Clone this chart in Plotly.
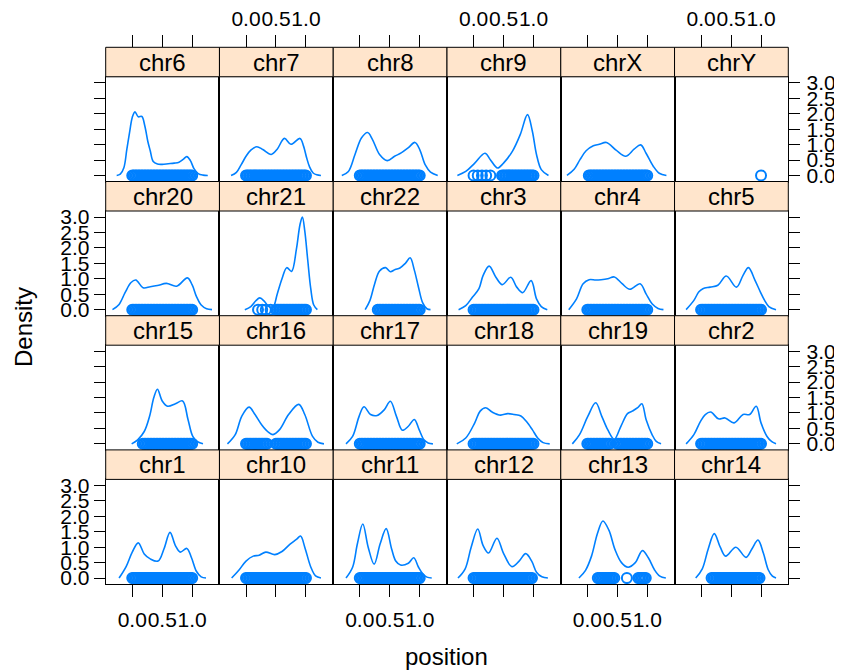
import plotly.graph_objects as go

# ---------------- data ----------------
panel_names = ["chr6", "chr7", "chr8", "chr9", "chrX", "chrY",
               "chr20", "chr21", "chr22", "chr3", "chr4", "chr5",
               "chr15", "chr16", "chr17", "chr18", "chr19", "chr2",
               "chr1", "chr10", "chr11", "chr12", "chr13", "chr14"]

x_ticks = [0.0, 0.5, 1.0]
x_tick_labels = ["0.0", "0.5", "1.0"]
y_ticks = [0.0, 0.5, 1.0, 1.5, 2.0, 2.5, 3.0]
y_tick_labels = ["0.0", "0.5", "1.0", "1.5", "2.0", "2.5", "3.0"]

# point positions (drawn at density 0) – the band spans the observed positions
full_band = [0.000, 0.025, 0.050, 0.075, 0.100, 0.125, 0.150, 0.175, 0.200, 0.225, 0.250,
             0.275, 0.300, 0.325, 0.350, 0.375, 0.400, 0.425, 0.450, 0.475, 0.500, 0.525,
             0.550, 0.575, 0.600, 0.625, 0.650, 0.675, 0.700, 0.725, 0.750, 0.775, 0.800,
             0.825, 0.850, 0.875, 0.900, 0.925, 0.950, 0.975, 1.000]

# density curves: position grid and density values
pos_chr6 = [-0.26, -0.20, -0.14, -0.09, -0.04, 0.00, 0.045, 0.10, 0.16, 0.21, 0.26, 0.30, 0.35,
            0.42, 0.50, 0.60, 0.70, 0.78, 0.85, 0.91, 0.97, 1.03, 1.10, 1.18, 1.26]
den_chr6 = [0.0, 0.04, 0.25, 0.85, 1.45, 1.88, 2.06, 1.90, 1.91, 1.60, 1.10, 0.80, 0.45,
            0.37, 0.36, 0.38, 0.40, 0.43, 0.52, 0.61, 0.48, 0.22, 0.06, 0.01, 0.0]
pts_chr6 = full_band

pos_chr7 = [-0.25, -0.16, -0.08, 0.0, 0.08, 0.18, 0.28, 0.42, 0.52, 0.64, 0.75, 0.90, 0.96,
            1.01, 1.06, 1.12, 1.18, 1.25]
den_chr7 = [0.0, 0.10, 0.35, 0.62, 0.82, 0.93, 0.84, 0.68, 0.85, 1.20, 1.01, 1.20, 0.95,
            0.58, 0.28, 0.08, 0.02, 0.0]
pts_chr7 = full_band

pos_chr8 = [-0.30, -0.19, -0.08, 0.03, 0.13, 0.21, 0.33, 0.46, 0.58, 0.69, 0.81, 0.92, 1.00,
            1.09, 1.18, 1.30]
den_chr8 = [0.0, 0.13, 0.68, 1.22, 1.39, 1.17, 0.68, 0.48, 0.62, 0.73, 0.90, 1.07, 0.84,
            0.35, 0.11, 0.0]
pts_chr8 = full_band

pos_chr9 = [-0.27, -0.13, 0.02, 0.19, 0.28, 0.40, 0.50, 0.65, 0.78, 0.90, 0.98, 1.05, 1.13, 1.25]
den_chr9 = [0.0, 0.13, 0.40, 0.72, 0.51, 0.24, 0.40, 0.79, 1.33, 1.97, 1.44, 0.68, 0.19, 0.0]
pts_chr9 = [0.00, 0.07, 0.14, 0.21, 0.28,
            0.475, 0.500, 0.525, 0.550, 0.575, 0.600, 0.625, 0.650, 0.675, 0.700, 0.725,
            0.750, 0.775, 0.800, 0.825, 0.850, 0.875, 0.900, 0.925, 0.950, 0.975, 1.000]

pos_chrX = [-0.34, -0.22, -0.12, -0.02, 0.10, 0.20, 0.32, 0.48, 0.64, 0.78, 0.89, 0.98, 1.10,
            1.20, 1.32]
den_chrX = [0.0, 0.20, 0.52, 0.80, 0.96, 1.01, 1.07, 0.82, 0.62, 0.85, 0.99, 0.72, 0.30, 0.07, 0.0]
pts_chrX = [0.025, 0.050, 0.075, 0.100, 0.125, 0.150, 0.175, 0.200, 0.225, 0.250, 0.275,
            0.300, 0.325, 0.350, 0.375, 0.400, 0.425, 0.450, 0.475, 0.500, 0.525, 0.550,
            0.575, 0.600, 0.625, 0.650, 0.675, 0.700, 0.725, 0.750, 0.775, 0.800, 0.825,
            0.850, 0.875, 0.900, 0.925, 0.950, 0.975, 1.000]

pos_chrY = []
den_chrY = []
pts_chrY = [1.0]

pos_chr20 = [-0.33, -0.22, -0.12, -0.02, 0.06, 0.18, 0.30, 0.42, 0.57, 0.74, 0.92, 1.00, 1.07,
             1.15, 1.24, 1.33]
den_chr20 = [0.0, 0.17, 0.55, 0.88, 0.96, 0.71, 0.74, 0.78, 0.85, 0.76, 1.03, 0.80, 0.43,
             0.15, 0.03, 0.0]
pts_chr20 = full_band

pos_chr21 = [-0.02, 0.08, 0.16, 0.23, 0.31, 0.38, 0.45, 0.52, 0.60, 0.68, 0.76, 0.84, 0.90,
             0.94, 0.98, 1.03, 1.08, 1.13, 1.19]
den_chr21 = [0.0, 0.10, 0.28, 0.38, 0.26, 0.10, 0.08, 0.50, 1.00, 1.36, 1.24, 1.95, 2.75,
             3.00, 2.55, 1.60, 0.68, 0.15, 0.0]
pts_chr21 = [0.20, 0.27, 0.33, 0.41,
             0.500, 0.525, 0.550, 0.575, 0.600, 0.625, 0.650, 0.675, 0.700, 0.725, 0.750,
             0.775, 0.800, 0.825, 0.850, 0.875, 0.900, 0.925, 0.950, 0.975, 1.000]

pos_chr22 = [0.09, 0.17, 0.25, 0.33, 0.43, 0.51, 0.59, 0.67, 0.76, 0.84, 0.91, 0.98, 1.05, 1.12, 1.18]
den_chr22 = [0.0, 0.30, 0.85, 1.25, 1.36, 1.23, 1.30, 1.35, 1.50, 1.68, 1.28, 0.72, 0.22, 0.03, 0.0]
pts_chr22 = [0.300, 0.325, 0.350, 0.375, 0.400, 0.425, 0.450, 0.475, 0.500, 0.525, 0.550,
             0.575, 0.600, 0.625, 0.650, 0.675, 0.700, 0.725, 0.750, 0.775, 0.800, 0.825,
             0.850, 0.875, 0.900, 0.925, 0.950, 0.975, 1.000]

pos_chr3 = [-0.25, -0.13, -0.02, 0.09, 0.16, 0.26, 0.37, 0.48, 0.62, 0.72, 0.82, 0.96, 1.05, 1.13, 1.23]
den_chr3 = [0.0, 0.13, 0.40, 0.68, 1.11, 1.41, 1.06, 0.81, 1.05, 0.73, 0.55, 0.94, 0.35, 0.10, 0.0]
pts_chr3 = full_band

pos_chr4 = [-0.31, -0.18, -0.07, 0.03, 0.14, 0.23, 0.34, 0.45, 0.58, 0.71, 0.88, 0.98, 1.08, 1.18, 1.27]
den_chr4 = [0.0, 0.35, 0.84, 0.97, 0.96, 0.97, 1.00, 1.06, 0.84, 0.66, 0.84, 0.51, 0.19, 0.04, 0.0]
pts_chr4 = full_band

pos_chr5 = [-0.25, -0.12, -0.04, 0.03, 0.15, 0.28, 0.42, 0.59, 0.70, 0.79, 0.90, 0.99, 1.06, 1.13, 1.25]
den_chr5 = [0.0, 0.30, 0.57, 0.68, 0.73, 0.79, 1.09, 0.73, 1.11, 1.36, 0.95, 0.57, 0.30, 0.10, 0.0]
pts_chr5 = full_band

pos_chr15 = [-0.01, 0.09, 0.20, 0.29, 0.36, 0.42, 0.50, 0.59, 0.72, 0.84, 0.93, 1.01, 1.09, 1.18]
den_chr15 = [0.0, 0.13, 0.40, 0.90, 1.50, 1.77, 1.39, 1.22, 1.30, 1.39, 0.79, 0.24, 0.07, 0.0]
pts_chr15 = [0.175, 0.200, 0.225, 0.250, 0.275, 0.300, 0.325, 0.350, 0.375, 0.400, 0.425,
             0.450, 0.475, 0.500, 0.525, 0.550, 0.575, 0.600, 0.625, 0.650, 0.675, 0.700,
             0.725, 0.750, 0.775, 0.800, 0.825, 0.850, 0.875, 0.900, 0.925, 0.950, 0.975, 1.000]

pos_chr16 = [-0.31, -0.18, -0.07, 0.05, 0.15, 0.26, 0.36, 0.45, 0.56, 0.71, 0.88, 0.98, 1.11, 1.20, 1.30]
den_chr16 = [0.0, 0.30, 0.90, 1.19, 0.95, 0.62, 0.40, 0.30, 0.46, 0.95, 1.28, 0.95, 0.24, 0.05, 0.0]
pts_chr16 = [0.000, 0.025, 0.050, 0.075, 0.100, 0.125, 0.150, 0.175, 0.200, 0.225, 0.250,
             0.275, 0.300, 0.325, 0.350,
             0.500, 0.525, 0.550, 0.575, 0.600, 0.625, 0.650, 0.675, 0.700, 0.725, 0.750,
             0.775, 0.800, 0.825, 0.850, 0.875, 0.900, 0.925, 0.950, 0.975, 1.000]

pos_chr17 = [-0.23, -0.12, -0.01, 0.07, 0.18, 0.29, 0.41, 0.51, 0.61, 0.71, 0.81, 0.91, 0.99,
             1.07, 1.14, 1.22]
den_chr17 = [0.0, 0.24, 0.90, 1.20, 0.95, 0.92, 1.11, 1.38, 0.90, 0.44, 0.57, 0.79, 0.46,
             0.13, 0.03, 0.0]
pts_chr17 = full_band

pos_chr18 = [-0.28, -0.13, 0.02, 0.11, 0.20, 0.31, 0.45, 0.57, 0.68, 0.79, 0.88, 0.98, 1.07, 1.16, 1.27]
den_chr18 = [0.0, 0.19, 0.68, 1.06, 1.17, 1.03, 0.93, 0.98, 0.95, 0.90, 0.73, 0.46, 0.19, 0.04, 0.0]
pts_chr18 = full_band

pos_chr19 = [-0.25, -0.13, 0.01, 0.14, 0.24, 0.34, 0.45, 0.56, 0.67, 0.75, 0.84, 0.91, 0.98,
             1.08, 1.15, 1.23]
den_chr19 = [0.0, 0.30, 0.90, 1.33, 0.90, 0.46, 0.15, 0.57, 0.98, 1.06, 1.17, 1.30, 0.79,
             0.30, 0.08, 0.0]
pts_chr19 = [0.000, 0.025, 0.050, 0.075, 0.100, 0.125, 0.150, 0.175, 0.200, 0.225, 0.250,
             0.275, 0.300, 0.325, 0.350, 0.375,
             0.500, 0.525, 0.550, 0.575, 0.600, 0.625, 0.650, 0.675, 0.700, 0.725, 0.750,
             0.775, 0.800, 0.825, 0.850, 0.875, 0.900, 0.925, 0.950, 0.975, 1.000]

pos_chr2 = [-0.25, -0.12, -0.01, 0.07, 0.16, 0.29, 0.40, 0.55, 0.70, 0.81, 0.92, 1.00, 1.10, 1.18, 1.25]
den_chr2 = [0.0, 0.30, 0.73, 0.95, 1.03, 0.81, 0.84, 0.68, 0.95, 0.95, 1.22, 0.68, 0.24, 0.07, 0.0]
pts_chr2 = full_band

pos_chr1 = [-0.22, -0.10, 0.0, 0.10, 0.20, 0.30, 0.43, 0.53, 0.63, 0.72, 0.80, 0.91, 0.99,
            1.07, 1.15, 1.23]
den_chr1 = [0.0, 0.38, 0.84, 1.14, 0.78, 0.62, 0.55, 0.95, 1.48, 1.05, 0.84, 0.96, 0.65,
            0.22, 0.04, 0.0]
pts_chr1 = full_band

pos_chr10 = [-0.24, -0.12, 0.0, 0.12, 0.22, 0.33, 0.48, 0.60, 0.73, 0.84, 0.91, 0.98, 1.08, 1.16, 1.25]
den_chr10 = [0.0, 0.25, 0.55, 0.71, 0.74, 0.84, 0.76, 0.86, 1.09, 1.25, 1.36, 1.0, 0.36, 0.07, 0.0]
pts_chr10 = full_band

pos_chr11 = [-0.23, -0.12, -0.04, 0.05, 0.14, 0.24, 0.34, 0.44, 0.53, 0.60, 0.68, 0.81, 0.90,
             0.98, 1.05, 1.12, 1.20]
den_chr11 = [0.0, 0.35, 1.11, 1.75, 1.00, 0.45, 1.11, 1.60, 0.95, 0.55, 0.42, 0.48, 0.66,
             0.35, 0.14, 0.03, 0.0]
pts_chr11 = full_band

pos_chr12 = [-0.26, -0.14, -0.04, 0.07, 0.16, 0.25, 0.39, 0.50, 0.64, 0.76, 0.87, 0.97, 1.05, 1.14, 1.24]
den_chr12 = [0.0, 0.30, 1.0, 1.59, 1.05, 0.81, 1.29, 0.80, 0.37, 0.55, 0.79, 0.55, 0.19, 0.04, 0.0]
pts_chr12 = [0.000, 0.025, 0.050, 0.075, 0.100, 0.125, 0.150, 0.175, 0.200, 0.225, 0.250,
             0.275, 0.300, 0.325, 0.350, 0.375, 0.400, 0.425, 0.450, 0.475, 0.500, 0.525,
             0.550, 0.575, 0.600, 0.625, 0.650, 0.675, 0.700, 0.725, 0.750, 0.775, 0.800,
             0.825, 0.850, 0.875, 0.900, 0.925, 0.950, 0.975]

pos_chr13 = [-0.14, -0.03, 0.07, 0.17, 0.26, 0.36, 0.46, 0.57, 0.68, 0.80, 0.92, 1.02, 1.12, 1.21, 1.31]
den_chr13 = [0.0, 0.25, 0.71, 1.45, 1.85, 1.55, 0.93, 0.50, 0.35, 0.50, 0.89, 0.65, 0.27, 0.06, 0.0]
pts_chr13 = [0.175, 0.200, 0.225, 0.250, 0.275, 0.300, 0.325, 0.350, 0.375, 0.400, 0.425,
             0.450, 0.66, 0.850, 0.875, 0.900, 0.925, 0.950, 0.975]

pos_chr14 = [-0.09, 0.02, 0.12, 0.22, 0.32, 0.41, 0.58, 0.75, 0.85, 0.95, 1.04, 1.12, 1.19, 1.25]
den_chr14 = [0.0, 0.30, 0.95, 1.44, 1.00, 0.71, 1.00, 0.67, 0.95, 1.23, 0.80, 0.27, 0.06, 0.0]
pts_chr14 = [0.175, 0.200, 0.225, 0.250, 0.275, 0.300, 0.325, 0.350, 0.375, 0.400, 0.425,
             0.450, 0.475, 0.500, 0.525, 0.550, 0.575, 0.600, 0.625, 0.650, 0.675, 0.700,
             0.725, 0.750, 0.775, 0.800, 0.825, 0.850, 0.875, 0.900, 0.925, 0.950, 0.975]

panel_data = {
    "chr6": (pos_chr6, den_chr6, pts_chr6), "chr7": (pos_chr7, den_chr7, pts_chr7),
    "chr8": (pos_chr8, den_chr8, pts_chr8), "chr9": (pos_chr9, den_chr9, pts_chr9),
    "chrX": (pos_chrX, den_chrX, pts_chrX), "chrY": (pos_chrY, den_chrY, pts_chrY),
    "chr20": (pos_chr20, den_chr20, pts_chr20), "chr21": (pos_chr21, den_chr21, pts_chr21),
    "chr22": (pos_chr22, den_chr22, pts_chr22), "chr3": (pos_chr3, den_chr3, pts_chr3),
    "chr4": (pos_chr4, den_chr4, pts_chr4), "chr5": (pos_chr5, den_chr5, pts_chr5),
    "chr15": (pos_chr15, den_chr15, pts_chr15), "chr16": (pos_chr16, den_chr16, pts_chr16),
    "chr17": (pos_chr17, den_chr17, pts_chr17), "chr18": (pos_chr18, den_chr18, pts_chr18),
    "chr19": (pos_chr19, den_chr19, pts_chr19), "chr2": (pos_chr2, den_chr2, pts_chr2),
    "chr1": (pos_chr1, den_chr1, pts_chr1), "chr10": (pos_chr10, den_chr10, pts_chr10),
    "chr11": (pos_chr11, den_chr11, pts_chr11), "chr12": (pos_chr12, den_chr12, pts_chr12),
    "chr13": (pos_chr13, den_chr13, pts_chr13), "chr14": (pos_chr14, den_chr14, pts_chr14),
}

# ---------------- layout geometry ----------------
W, H = 842, 671
OX, OY = -8, -9          # compensate for the page's default body margin
NCOL, NROW = 6, 4
col_left = 105.7 + OX
col_w = 682.6 / 6
top = 48.3 + OY
pitch = 134.2
strip_h = 29.5
x_range = [-0.443, 1.455]
y_range = [-0.196, 3.196]
BLUE = "#0080FF"
FONT = "Liberation Sans, Arial, Helvetica, sans-serif"
TICK_FONT = dict(family=FONT, size=21, color="black")

fig = go.Figure()
layout = dict(
    width=W, height=H, margin=dict(l=0, r=0, t=0, b=0, autoexpand=False),
    paper_bgcolor="white", plot_bgcolor="white", showlegend=False,
    font=dict(family=FONT, color="black"),
)
shapes = []
annotations = []

for idx, name in enumerate(panel_names):
    r, c = divmod(idx, NCOL)
    k = idx + 1
    xs = "" if k == 1 else str(k)
    x0 = col_left + c * col_w
    x1 = x0 + col_w
    s_top = top + r * pitch
    s_bot = s_top + strip_h
    p_bot = top + (r + 1) * pitch

    pos, den, pts = panel_data[name]
    if pos:
        fig.add_trace(go.Scatter(x=pos, y=den, mode="lines",
                                 line=dict(color=BLUE, width=1.6, shape="spline", smoothing=1.0),
                                 xaxis="x" + xs, yaxis="y" + xs, hoverinfo="skip"))
    fig.add_trace(go.Scatter(x=pts, y=[0.0] * len(pts), mode="markers",
                             marker=dict(symbol="circle-open", size=10, color=BLUE,
                                         line=dict(width=2, color=BLUE)),
                             xaxis="x" + xs, yaxis="y" + xs, hoverinfo="skip"))

    xa = dict(domain=[x0 / W, x1 / W], range=x_range, anchor="y" + xs,
              showline=True, mirror=True, linecolor="black", linewidth=1,
              showgrid=False, zeroline=False, fixedrange=True, automargin=False,
              tickangle=0, tickvals=x_ticks, ticktext=x_tick_labels, tickfont=TICK_FONT)
    if r == NROW - 1:
        xa.update(ticks="outside", ticklen=12, tickcolor="black", tickwidth=1,
                  showticklabels=(c % 2 == 0), ticklabelstandoff=5)
    else:
        xa.update(ticks="", showticklabels=False)

    ya = dict(domain=[1 - p_bot / H, 1 - s_bot / H], range=y_range, anchor="x" + xs,
              showline=True, mirror=True, linecolor="black", linewidth=1,
              showgrid=False, zeroline=False, fixedrange=True, automargin=False,
              tickangle=0, tickvals=y_ticks, ticktext=y_tick_labels, tickfont=TICK_FONT)
    if c == 0:
        ya.update(side="left", ticks="outside", ticklen=11, tickcolor="black",
                  showticklabels=(r % 2 == 1))
    elif c == NCOL - 1:
        ya.update(side="right", ticks="outside", ticklen=11, tickcolor="black",
                  showticklabels=(r % 2 == 0), ticklabelstandoff=2)
    else:
        ya.update(ticks="", showticklabels=False)

    layout["xaxis" + xs] = xa
    layout["yaxis" + xs] = ya

    # strip
    shapes.append(dict(type="rect", xref="paper", yref="paper",
                       x0=x0 / W, x1=x1 / W, y0=1 - s_bot / H, y1=1 - s_top / H,
                       fillcolor="#FFE5CC", line=dict(color="black", width=1)))
    annotations.append(dict(text=name, xref="paper", yref="paper",
                            x=(x0 + x1) / 2 / W, y=1 - (s_top + s_bot) / 2 / H,
                            xanchor="center", yanchor="middle", showarrow=False,
                            font=dict(family=FONT, size=24, color="black")))

# top tick axes above the first row's strips
for c in range(NCOL):
    k = 25 + c
    base = "x" if c == 0 else "x" + str(c + 1)
    layout["xaxis" + str(k)] = dict(
        overlaying=base, anchor="free", position=1 - top / H, side="top",
        range=x_range, showline=False, showgrid=False, zeroline=False, fixedrange=True,
        automargin=False, tickangle=0,
        ticks="outside", ticklen=12, tickcolor="black", tickwidth=1,
        tickvals=x_ticks, ticktext=x_tick_labels, tickfont=TICK_FONT,
        showticklabels=(c % 2 == 1), ticklabelstandoff=1)
    fig.add_trace(go.Scatter(x=[None], y=[None], mode="markers",
                             xaxis="x" + str(k), yaxis="y" if c == 0 else "y" + str(c + 1),
                             hoverinfo="skip"))

# axis titles
annotations.append(dict(text="position", xref="paper", yref="paper",
                        x=(447 + OX) / W, y=1 - (657 + OY) / H, xanchor="center", yanchor="middle",
                        showarrow=False, font=dict(family=FONT, size=24, color="black")))
annotations.append(dict(text="Density", xref="paper", yref="paper",
                        x=(23 + OX) / W, y=1 - (328 + OY) / H, xanchor="center", yanchor="middle",
                        textangle=-90, showarrow=False,
                        font=dict(family=FONT, size=24, color="black")))

layout["shapes"] = shapes
layout["annotations"] = annotations
fig.update_layout(**layout)

fig.write_html("out.html")
